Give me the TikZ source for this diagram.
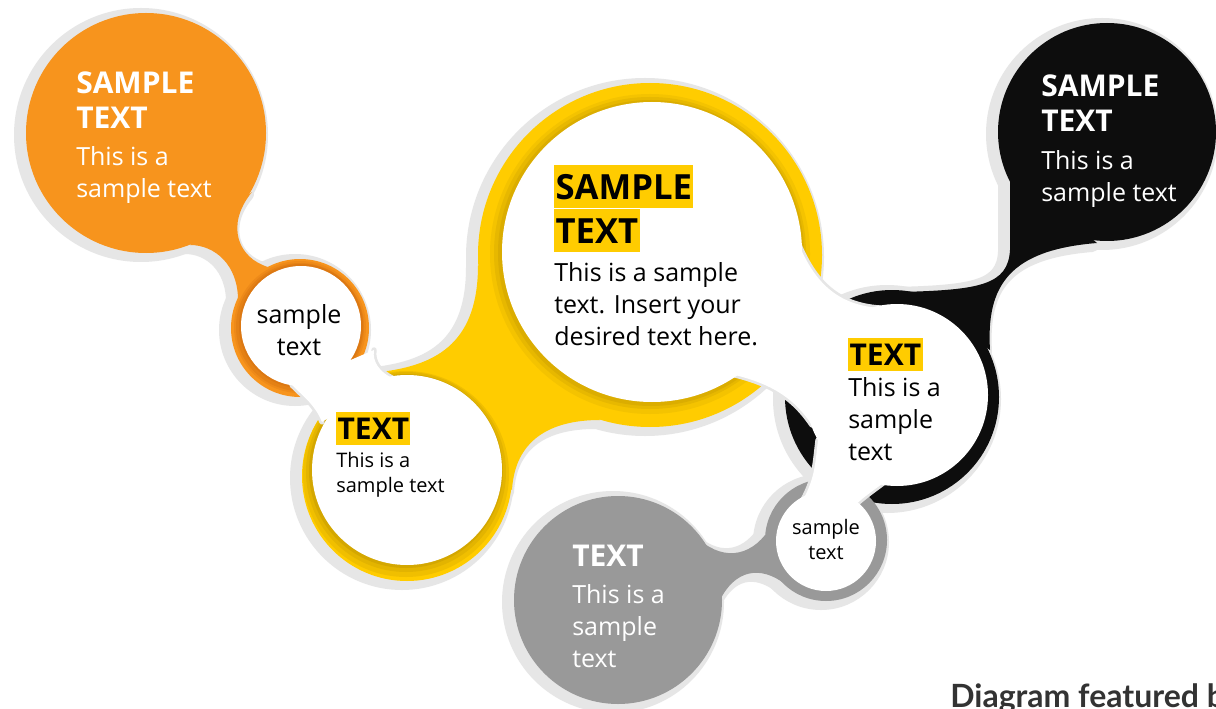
\documentclass[tikz,border=0pt]{standalone}
\usepackage{fontspec}
\setmainfont{Open Sans}
\newfontfamily\footfont{Lato}

% --- colours ---
\definecolor{orangeMain}{HTML}{F7941D}
\definecolor{orangeDark}{HTML}{DC7812}
\definecolor{goldMain}{HTML}{FFCC00}
\definecolor{goldDark}{HTML}{D4A700}
\definecolor{blackMain}{HTML}{0D0D0D}
\definecolor{grayMain}{HTML}{999999}
\definecolor{shadowGray}{HTML}{E6E6E6}
\definecolor{footGray}{HTML}{333333}

\begin{document}
\begin{tikzpicture}[x=0.75pt, y=-0.75pt]

% --- styles ---
\tikzset{
  shadowBlob/.style={fill=shadowGray, draw=shadowGray, line width=10.5pt, line join=round},
  halo/.style={draw=shadowGray, line width=4pt, line join=round, line cap=round},
  titleWhite/.style={anchor=north west, inner sep=0pt, align=left, text=white,
    font=\fontsize{22.5}{26.25}\selectfont\bfseries},
  bodyWhite/.style={anchor=north west, inner sep=0pt, align=left, text=white,
    font=\fontsize{18.75}{24}\selectfont},
  bodyDark/.style={anchor=north west, inner sep=0pt, align=left, text=black,
    font=\fontsize{18.75}{24}\selectfont},
  smallDark/.style={anchor=north west, inner sep=0pt, align=left, text=black,
    font=\fontsize{15}{18.75}\selectfont},
  tagSmall/.style={anchor=north west, fill=goldMain, inner xsep=1pt, inner ysep=0pt,
    minimum height=24.75pt, text=black, font=\fontsize{22.5}{26.25}\selectfont\bfseries},
  tagBig/.style={anchor=north west, fill=goldMain, inner xsep=1pt, inner ysep=0pt,
    minimum height=32.25pt, text=black, font=\fontsize{26}{32}\selectfont\bfseries}
}

% --- page ---
\useasboundingbox (0,0) rectangle (1216,709);
\clip (0,0) rectangle (1216,709);
\fill[white] (0,0) rectangle (1216,709);

% --- necks between the circles ---
\def\orangeNeck{(190,245) .. controls (215,245) and (238,265) .. (238,300) -- (268,267) .. controls (238,258) and (225,225) .. (252,192) -- cycle}
\def\goldWeb{(380,372) .. controls (440,365) and (478,340) .. (478,265) -- (600,420) .. controls (550,420) and (515,440) .. (512,490) -- cycle}
\def\blackNeck{(1010,170) -- (1010,250) .. controls (1008,285) and (980,290) .. (900,292) -- (990,350) .. controls (986,285) and (1010,250) .. (1097,243) -- cycle}
\def\grayNeck{(690,530) .. controls (715,560) and (745,560) .. (765,535) -- (785,584) .. controls (760,565) and (735,570) .. (720,600) -- cycle}

% --- shadows ---
\begin{scope}[shift={(-5,2)}]
  \filldraw[shadowBlob] (146,133) circle (120);
  \filldraw[shadowBlob] (300,328) circle (69);
  \filldraw[shadowBlob] \orangeNeck;
  \filldraw[shadowBlob] (650,255) circle (172);
  \filldraw[shadowBlob] (407,476) circle (105);
  \filldraw[shadowBlob] \goldWeb;
  \filldraw[shadowBlob] (1107,132) circle (109);
  \filldraw[shadowBlob] (892,397) circle (107);
  \filldraw[shadowBlob] \blackNeck;
  \filldraw[shadowBlob] (618,600) circle (104);
  \filldraw[shadowBlob] (826,540) circle (61);
  \filldraw[shadowBlob] \grayNeck;
\end{scope}

% --- orange ---
\fill[orangeMain] (146,133) circle (120);
\fill[orangeMain] \orangeNeck;
\fill[orangeMain] (300,328) circle (69);
\fill[orangeDark!35!orangeMain] (300,327) circle (66);
\fill[orangeDark!70!orangeMain] (300,327) circle (64);
\fill[orangeDark] (301,326) circle (62);

% --- gold ---
\fill[goldMain] \goldWeb;
\fill[goldMain] (650,255) circle (172);
\fill[goldDark!25!goldMain] (650,254) circle (160);
\fill[goldDark!55!goldMain] (650,253) circle (156);
\fill[goldDark!85!goldMain] (651,253) circle (153);
\fill[goldMain] (407,476) circle (105);
\fill[goldDark!35!goldMain] (406,474) circle (103);
\fill[goldDark!65!goldMain] (406,472) circle (100);
\fill[goldDark] (406,471) circle (97);

% --- black ---
\fill[blackMain] (1107,132) circle (109);
\fill[blackMain] \blackNeck;
\fill[blackMain] (892,397) circle (107);

% --- gray ---
\fill[grayMain] (618,600) circle (104);
\fill[grayMain] \grayNeck;
\fill[grayMain] (826,540) circle (61);

% --- white links (chain) ---
\draw[halo] (292,385) .. controls (305,398) and (315,405) .. (322,422);
\draw[halo] (392,378) .. controls (380,372) and (372,362) .. (374,350);
\draw[halo] (795,235) .. controls (812,280) and (835,305) .. (880,308);
\draw[halo] (812,425) .. controls (795,400) and (775,385) .. (735,375);
\draw[halo] (818,440) .. controls (815,465) and (815,480) .. (800,505);
\draw[halo] (850,510) .. controls (865,495) and (875,490) .. (900,470);

\fill[white] (292,385) .. controls (305,398) and (315,405) .. (322,422) -- (392,378) .. controls (380,372) and (372,362) .. (374,350) -- cycle;
\fill[white] (795,235) .. controls (812,280) and (835,305) .. (880,308) -- (812,425) .. controls (795,400) and (775,385) .. (735,375) -- cycle;
\fill[white] (818,440) .. controls (815,465) and (815,480) .. (800,505) -- (850,510) .. controls (865,495) and (875,490) .. (900,470) -- cycle;

% --- ring insides ---
\fill[white] (301,326) circle (60);
\fill[white] (652,252) circle (150);
\fill[white] (407,470) circle (95);
\fill[white] (897,395) circle (91);
\fill[white] (826,541) circle (50);

% --- texts ---
\node[titleWhite] (ttlOrange) at (76,72) {SAMPLE\\TEXT};
\node[bodyWhite] (txtOrange) at (76,146) {This is a\\sample text};
\node[bodyDark, anchor=north, align=center] (txtOrangeRing) at (299,304) {sample\\text};

\node[tagBig] (tagSample) at (554,165) {SAMPLE};
\node[tagBig] (tagText) at (554,209) {TEXT};
\node[bodyDark] (txtGold) at (554,262) {This is a sample\\text. Insert your\\desired text here.};

\node[tagSmall] (tagGold) at (336,412) {TEXT};
\node[smallDark] (txtGoldRing) at (336,452) {This is a\\sample text};

\node[titleWhite] (ttlBlack) at (1041,75) {SAMPLE\\TEXT};
\node[bodyWhite] (txtBlack) at (1041,150) {This is a\\sample text};
\node[tagSmall] (tagBlack) at (848,338) {TEXT};
\node[bodyDark] (txtBlackRing) at (848,377) {This is a\\sample\\text};

\node[smallDark, anchor=north, align=center] (txtGrayRing) at (826,519) {sample\\text};
\node[titleWhite] (ttlGray) at (572,545) {TEXT};
\node[bodyWhite] (txtGray) at (572,584) {This is a\\sample\\text};

\node[anchor=base west, inner sep=0pt, text=footGray,
  font=\fontsize{24}{27}\footfont\bfseries] (footer) at (950,707) {Diagram featured by};

\end{tikzpicture}
\end{document}
